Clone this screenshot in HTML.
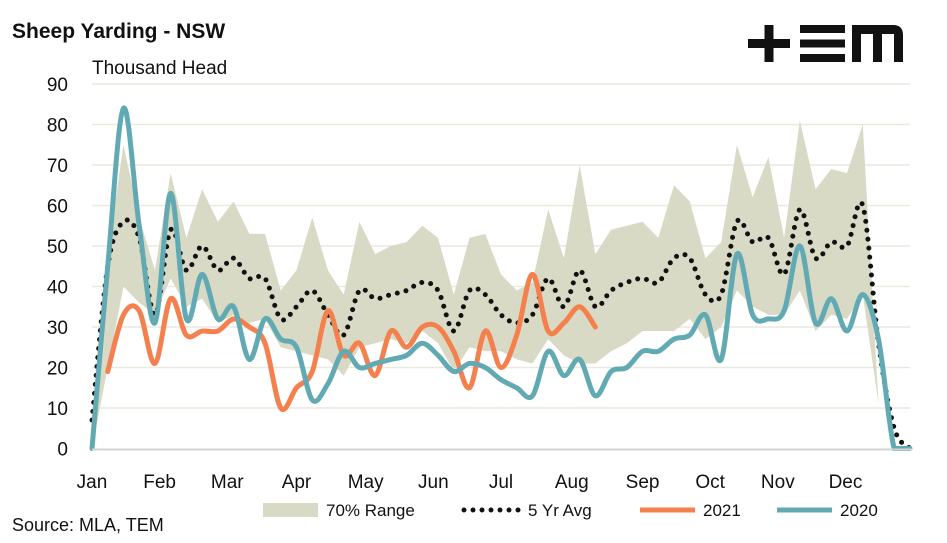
<!DOCTYPE html>
<html><head><meta charset="utf-8"><style>
body{margin:0;background:#fff;}
svg{display:block;font-family:"Liberation Sans",Arial,sans-serif;}
</style></head><body>
<svg id="chart" width="947" height="543" viewBox="0 0 947 543">
<text x="12" y="38" font-size="21" font-weight="bold" fill="#111">Sheep Yarding - NSW</text>
<text x="92" y="74" font-size="19" fill="#111">Thousand Head</text>
<g fill="#111">
<rect x="748" y="39" width="42" height="9"/><rect x="764.5" y="25" width="9" height="37"/>
<rect x="800" y="25" width="45" height="8"/><rect x="800" y="39.5" width="45" height="8"/><rect x="800" y="54" width="45" height="8"/>
<path d="M852 62 V25 H893 Q903 25 903 35 V62 H894 V34 H882 V62 H873 V34 H861 V62 Z"/>
</g>
<g id="grid"></g><g id="range"></g><g id="lines"></g><g id="axes"></g>
<g>
<rect x="263" y="503" width="55" height="14" fill="#d9dac5"/>
<text x="326" y="516" font-size="17" fill="#111">70% Range</text>
<line x1="464" y1="510" x2="520" y2="510" stroke="#111" stroke-width="5" stroke-linecap="round" stroke-dasharray="0 9"/>
<text x="528" y="516" font-size="17" fill="#111">5 Yr Avg</text>
<line x1="640" y1="510" x2="695" y2="510" stroke="#f4804e" stroke-width="5"/>
<text x="703" y="516" font-size="17" fill="#111">2021</text>
<line x1="777" y1="510" x2="832" y2="510" stroke="#62aab3" stroke-width="5"/>
<text x="840" y="516" font-size="17" fill="#111">2020</text>
</g>
<text x="12" y="531" font-size="18" fill="#111">Source: MLA, TEM</text>
</svg>
<script>
const months=["Jan","Feb","Mar","Apr","May","Jun","Jul","Aug","Sep","Oct","Nov","Dec"];
const monthPos=[0,4.3,8.6,13,17.4,21.7,26,30.5,35,39.3,43.6,47.9];
const yTicks=[0,10,20,30,40,50,60,70,80,90];
const rangeUpper=[5,48,75,57,44,68,52,64,56,61,53,53,39,44,57,44,38,56,48,50,51,55,52,38,52,53,43,39,41,59,47,70,48,54,55,56,52,65,61,47,51,75,62,72,52,81,64,69,68,80,11,5,0];
const rangeLower=[0,20,40,36,33,42,35,37,31,33,31,32,25,24,23,22,18,25,26,27,26,29,26,19,25,24,24,22,21,27,23,21,21,24,26,29,29,29,32,27,30,39,35,33,33,39,29,33,32,38,11,5,0];
const avg5=[7,45,56,52,33,54,44,50,44,47,42,42,32,35,39,33,28,39,37,38,39,41,39,29,39,38,33,31,33,42,35,44,35,39,41,42,41,47,47,38,38,56,51,52,43,59,47,51,50,60,26,5,0];
const y2021=[null,19,33,34,21,37,28,29,29,32,30,26,10,15,19,34,23,26,18,29,25,30,30,24,15,29,20,28,43,29,31,35,30];
const y2020=[0,45,84,55,31,63,32,43,32,35,22,32,27,25,12,16,24,20,21,22,23,26,23,19,21,20,17,15,13,24,18,22,13,19,20,24,24,27,28,33,22,48,33,32,34,50,31,37,29,38,27,0,0];
const X=i=>92+i*15.73, Y=v=>448.5-v*4.05;
const NS="http://www.w3.org/2000/svg";
function mk(t,a,p){const e=document.createElementNS(NS,t);for(const k in a)e.setAttribute(k,a[k]);p.appendChild(e);return e;}
const grid=document.getElementById('grid'),axes=document.getElementById('axes');
yTicks.forEach(v=>{
 if(v>0){const g=mk('line',{x1:92,x2:910,y1:Y(v),y2:Y(v),stroke:'#e9e9df','stroke-width':1.5},grid);
 
 }
 const t=mk('text',{x:68,y:Y(v)+7,'font-size':19,'text-anchor':'end',fill:'#111'},axes);t.textContent=v;
 
 
});
const base=mk('line',{x1:92,x2:912,y1:449.5,y2:449.5,stroke:'#d4d4d4','stroke-width':2},axes);


months.forEach((m,k)=>{const t=mk('text',{x:X(monthPos[k]),y:488,'font-size':19,'text-anchor':'middle',fill:'#111'},axes);t.textContent=m;
 
 });
let d='';rangeUpper.forEach((v,i)=>d+=(i?'L':'M')+X(i)+' '+Y(v));
for(let i=rangeLower.length-1;i>=0;i--)d+='L'+X(i)+' '+Y(rangeLower[i]);
const r=mk('path',{d:d+'Z',fill:'#d9dac5'},document.getElementById('range'));


const YMAX=Y(0);
const cl=v=>Math.min(v,YMAX);
function smooth(arr){const p=[];arr.forEach((v,i)=>{if(v!==null)p.push([X(i),Y(v)]);});
 let s='M'+p[0][0]+' '+p[0][1];
 for(let i=0;i<p.length-1;i++){const p0=p[i-1]||p[i],p1=p[i],p2=p[i+1],p3=p[i+2]||p2;
  s+='C'+(p1[0]+(p2[0]-p0[0])/6)+' '+cl(p1[1]+(p2[1]-p0[1])/6)+' '+(p2[0]-(p3[0]-p1[0])/6)+' '+cl(p2[1]-(p3[1]-p1[1])/6)+' '+p2[0]+' '+p2[1];}
 return s;}
const L=document.getElementById('lines');
const a=mk('path',{d:smooth(avg5),fill:'none',stroke:'#111','stroke-width':5,'stroke-linecap':'round','stroke-dasharray':'0 9'},L);


const o=mk('path',{d:smooth(y2021),fill:'none',stroke:'#f4804e','stroke-width':5,'stroke-linecap':'round'},L);


const t=mk('path',{d:smooth(y2020),fill:'none',stroke:'#62aab3','stroke-width':5,'stroke-linecap':'round'},L);


</script>
</body></html>
